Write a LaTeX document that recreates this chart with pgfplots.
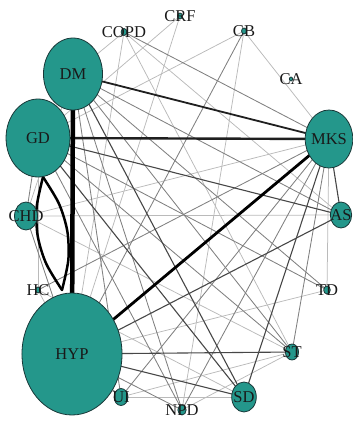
\documentclass[border=0pt]{standalone}
\usepackage{pgfplots}
\usepackage{pgfplotstable}
\pgfplotsset{compat=1.18}
\usepackage{fontspec}
\setmainfont{Liberation Serif}
\pgfdeclareplotmark{ell}{%
  \pgfpathellipse{\pgfpointorigin}{\pgfqpoint{0.82\pgfplotmarksize}{0pt}}{\pgfqpoint{0pt}{\pgfplotmarksize}}%
  \pgfusepathqfillstroke}
\definecolor{nodefill}{RGB}{36,151,139}
\definecolor{nodeline}{RGB}{25,55,55}
\pgfplotsset{
  ed/.style={no marks, line cap=round},
  lt/.style={ed, black!27, line width=0.75pt},
  md/.style={ed, black!50, line width=0.85pt},
  dk/.style={ed, black!72, line width=1.1pt},
}
\pgfplotstableread{
x y r name
341 215 13 AS
329 139 29 MKS
291 79 2 CA
244 31 3 CB
180 16 3 CRF
124 32 3.5 COPD
73 74 36 DM
38 138 39 GD
26 216 14 CHD
38 290 3 HC
72 354 61 HYP
121 397 8.5 UI
182 410 5 NPD
244 397 15 SD
292 352 8 ST
327 290 4 TD
}\nodetab
\begin{document}
\begin{tikzpicture}
\begin{axis}[hide axis, scale only axis, width=353pt, height=421pt,
  xmin=0, xmax=353, ymin=0, ymax=421, y dir=reverse, clip=false]
\addplot[draw=none, no marks] coordinates {(0,0) (353,421)};
% light edges
\addplot[lt] coordinates {(26,216) (341,215)};
\addplot[lt] coordinates {(26,216) (329,139)};
\addplot[lt] coordinates {(121,397) (244,397)};
\addplot[lt] coordinates {(244,31) (38,138)};
\addplot[lt] coordinates {(244,31) (329,139)};
\addplot[lt] coordinates {(180,16) (38,138)};
\addplot[lt] coordinates {(180,16) (72,354)};
\addplot[lt] coordinates {(124,32) (73,74)};
\addplot[lt] coordinates {(124,32) (72,354)};
\addplot[lt] coordinates {(124,32) (341,215)};
\addplot[lt] coordinates {(124,32) (292,352)};
\addplot[lt] coordinates {(38,138) (38,290)};
\addplot[lt] coordinates {(38,290) (72,354)};
\addplot[lt] coordinates {(26,216) (292,352)};
\addplot[lt] coordinates {(72,354) (327,290)};
\addplot[lt] coordinates {(329,139) (327,290)};
\addplot[lt] coordinates {(38,290) (244,397)};
\addplot[lt] coordinates {(182,410) (292,352)};
\addplot[lt] coordinates {(73,74) (26,216)};
\addplot[lt] coordinates {(244,31) (182,410)};
\addplot[lt] coordinates {(121,397) (292,352)};
% medium edges
\addplot[md] coordinates {(73,74) (341,215)};
\addplot[md] coordinates {(73,74) (327,290)};
\addplot[md] coordinates {(73,74) (292,352)};
\addplot[md] coordinates {(38,138) (292,352)};
\addplot[md] coordinates {(38,138) (327,290)};
\addplot[md] coordinates {(329,139) (121,397)};
\addplot[md] coordinates {(329,139) (182,410)};
\addplot[md] coordinates {(329,139) (38,290)};
\addplot[md] coordinates {(329,139) (292,352)};
\addplot[md] coordinates {(72,354) (182,410)};
\addplot[md] coordinates {(72,354) (121,397)};
\addplot[md] coordinates {(72,354) (244,31)};
\addplot[md] coordinates {(73,74) (182,410)};
\addplot[md] coordinates {(38,138) (182,410)};
\addplot[md] coordinates {(26,216) (72,354)};
\addplot[md] coordinates {(38,138) (26,216)};
\addplot[md] coordinates {(124,32) (329,139)};
\addplot[md] coordinates {(73,74) (121,397)};
% dark edges
\addplot[dk] coordinates {(72,354) (244,397)};
\addplot[dk] coordinates {(72,354) (292,352)};
\addplot[dk] coordinates {(38,138) (341,215)};
\addplot[dk] coordinates {(72,354) (341,215)};
\addplot[dk] coordinates {(329,139) (341,215)};
\addplot[dk] coordinates {(329,139) (244,397)};
\addplot[dk] coordinates {(73,74) (244,397)};
\addplot[dk] coordinates {(38,138) (244,397)};
% heavy edges
\addplot[ed, black!88, line width=1.8pt] coordinates {(73,74) (329,139)};
\addplot[ed, black!88, line width=2.4pt] coordinates {(38,138) (329,139)};
\addplot[ed, black, line width=2.8pt] coordinates {(72,354) (329,139)};
\addplot[ed, black, line width=4.5pt] coordinates {(73,74) (72,354)};
\addplot[ed, black, line width=2.5pt, smooth] coordinates {(43,177) (36.65,207.1) (37.7,236) (46.16,263.6) (62,290)};
\addplot[ed, black, line width=2.5pt, smooth] coordinates {(43,177) (58.85,203.4) (67.3,231) (68.35,259.9) (62,290)};
% vertices
\addplot[scatter, only marks, mark=ell,
  scatter/use mapped color={draw=nodeline, fill=nodefill},
  mark options={line width=0.8pt},
  visualization depends on={\thisrow{r} \as \rr},
  scatter/@pre marker code/.append style={/tikz/mark size=\rr pt}]
  table[x=x, y=y] {\nodetab};
% labels
\addplot[draw=none, no marks, nodes near coords, point meta=explicit symbolic,
  nodes near coords style={anchor=center, inner sep=0pt, font=\fontsize{16.5}{16.5}\selectfont, text=black!90}]
  table[x=x, y=y, meta=name] {\nodetab};
\end{axis}
\end{tikzpicture}
\end{document}
